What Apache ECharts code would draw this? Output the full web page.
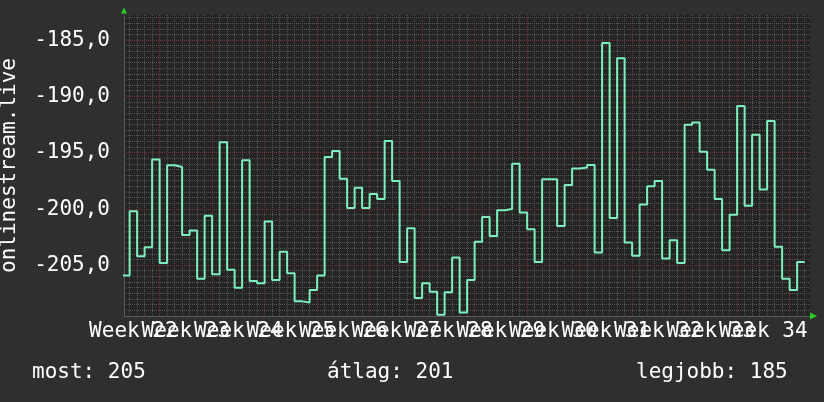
<!DOCTYPE html>
<html>
<head>
<meta charset="utf-8">
<script src="https://cdn.jsdelivr.net/npm/echarts@6/dist/echarts.min.js"></script>
<style>
html,body{margin:0;padding:0;background:#2f2f2f;}
#chart{width:824px;height:402px;}
</style>
</head>
<body>
<div id="chart"></div>
<script>
// ---- data ----
const weekLabels = ['Week 22','Week 23','Week 24','Week 25','Week 26','Week 27','Week 28',
                    'Week 29','Week 30','Week 31','Week 32','Week 33','Week 34'];
const dailyValues = [
  -205.9, -200.2, -204.2, -203.4, -195.6, -204.8, -196.1, -196.25, -202.3, -201.9,
  -206.2, -200.6, -205.8, -194.06, -205.4, -207.0, -195.66, -206.4, -206.6, -201.1,
  -206.3, -203.8, -205.7, -208.2, -208.3, -207.2, -205.9, -195.36, -194.83, -197.3,
  -199.9, -198.1, -199.9, -198.65, -199.1, -193.94, -197.5, -204.7, -201.7, -207.9,
  -206.6, -207.35, -209.4, -207.4, -204.3, -209.2, -206.3, -202.9, -200.7, -202.4,
  -200.1, -200.0, -195.98, -200.3, -201.8, -204.7, -197.35, -197.35, -201.5, -197.85,
  -196.4, -196.3, -196.07, -203.86, -185.24, -200.8, -186.6, -202.97, -204.15, -199.6,
  -197.97, -197.5, -204.4, -202.76, -204.8, -192.5, -192.3, -194.9, -196.5, -199.1,
  -203.65, -200.5, -190.83, -199.7, -193.4, -198.26, -192.17, -203.35, -206.2, -207.2,
  -204.7
];
const yTickValues = [-205, -200, -195, -190, -185];
const yAxisTitle = 'onlinestream.live';
const statNames = ['most', 'átlag', 'legjobb'];

// ---- layout (x axis units: days) ----
const FIRST_DAY_START = -0.25;
const X_MAX = 686 / 7.5;
const Y_MIN = -209.5, Y_MAX = -182.75;
const WEEK_LABEL_FIRST = 1.25;
const FIRST_WEEK_LINE = 4.75;

const lineData = dailyValues.map((v, i) => [FIRST_DAY_START + i, v]);
lineData.push([FIRST_DAY_START + dailyValues.length, dailyValues[dailyValues.length - 1]]);

const weekLabelPos = weekLabels.map((_, k) => WEEK_LABEL_FIRST + 7 * k);
const evenPos = weekLabelPos.filter((_, k) => k % 2 === 0);
const oddPos = weekLabelPos.filter((_, k) => k % 2 === 1);
const weekText = v => weekLabels[Math.round((v - WEEK_LABEL_FIRST) / 7)];

const cur = Math.round(-dailyValues[dailyValues.length - 1]);
const avg = Math.round(-dailyValues.reduce((a, b) => a + b, 0) / dailyValues.length);
const best = Math.round(-Math.max.apply(null, dailyValues));
const statValues = [cur, avg, best];

// grid lines: [x, y, kind(0 vertical / 1 horizontal), major]
const gridItems = [];
for (let k = 0; k < dailyValues.length; k++) {
  const d = FIRST_DAY_START + 1 + k;
  if (d > X_MAX) break;
  const major = Math.abs(((d - FIRST_WEEK_LINE) % 7 + 7) % 7) < 1e-9 ? 1 : 0;
  gridItems.push([d, -200, 0, major]);
}
for (let v = Y_MIN + 0.5; v < Y_MAX; v += 0.5) {
  const major = Math.abs(v % 5) < 1e-9 ? 1 : 0;
  gridItems.push([10, v, 1, major]);
}

const GRAY = '#555555', RED = '#753232';
const FONT = 'DejaVu Sans Mono';
const statLeft = [32, 327, 636];

const labelStyle = {color: '#ffffff', fontFamily: FONT, fontSize: 21, margin: 5, hideOverlap: false,
                    showMinLabel: true, showMaxLabel: true, formatter: weekText};

const chart = echarts.init(document.getElementById('chart'), null, {renderer: 'canvas'});
chart.setOption({
  backgroundColor: '#2f2f2f',
  animation: false,
  textStyle: {fontFamily: FONT},
  title: statNames.map((n, i) => ({
    text: n + ': ' + statValues[i],
    left: statLeft[i], top: 362, padding: 0,
    textStyle: {color: '#ffffff', fontFamily: FONT, fontSize: 21, fontWeight: 'normal'}
  })),
  grid: {
    left: 124, top: 15, width: 686, height: 301,
    show: true, backgroundColor: '#242424', borderWidth: 0,
    containLabel: false, outerBoundsMode: 'none'
  },
  xAxis: [{
    type: 'value', min: 0, max: X_MAX, position: 'bottom',
    axisLine: {show: true, onZero: false, lineStyle: {color: '#5a5a5a', width: 1}},
    axisTick: {show: false},
    splitLine: {show: false},
    axisLabel: Object.assign({show: true, customValues: evenPos}, labelStyle)
  }, {
    type: 'value', min: 0, max: X_MAX, position: 'bottom',
    axisLine: {show: true, onZero: false, symbol: ['none', 'triangle'], symbolSize: [7, 7], symbolOffset: [0, 3.5],
               lineStyle: {color: '#22d022', width: 0}},
    axisTick: {show: false}, axisLabel: {show: false}, splitLine: {show: false}
  }, {
    type: 'value', min: 0, max: X_MAX, position: 'bottom',
    axisLine: {show: false, onZero: false},
    axisTick: {show: false}, splitLine: {show: false},
    axisLabel: Object.assign({show: true, customValues: oddPos}, labelStyle)
  }],
  yAxis: [{
    type: 'value', min: Y_MIN, max: Y_MAX,
    axisLine: {show: true, onZero: false, lineStyle: {color: '#5a5a5a', width: 1}},
    axisTick: {show: false},
    splitLine: {show: false},
    axisLabel: {
      show: true, customValues: yTickValues, showMinLabel: true, showMaxLabel: true,
      formatter: v => v.toFixed(1).replace('.', ','),
      color: '#ffffff', fontFamily: FONT, fontSize: 21, margin: 14
    },
    name: yAxisTitle, nameLocation: 'middle', nameRotate: 90, nameGap: 104,
    nameTextStyle: {color: '#ffffff', fontFamily: FONT, fontSize: 21}
  }, {
    type: 'value', min: Y_MIN, max: Y_MAX, position: 'left',
    axisLine: {show: true, onZero: false, symbol: ['none', 'triangle'], symbolSize: [6, 6], symbolOffset: [0, 4.5],
               lineStyle: {color: '#22d022', width: 0}},
    axisTick: {show: false}, axisLabel: {show: false}, splitLine: {show: false}
  }],
  series: [{
    type: 'custom', xAxisIndex: 0, yAxisIndex: 0, z: 1, silent: true,
    data: gridItems,
    renderItem: function (params, api) {
      const cs = params.coordSys;
      const p = api.coord([api.value(0), api.value(1)]);
      const kind = api.value(2), major = api.value(3);
      let shape;
      if (kind === 0) {
        const x = Math.floor(p[0]) + 0.5;
        shape = {x1: x, y1: cs.y, x2: x, y2: cs.y + cs.height};
      } else {
        const y = Math.floor(p[1]) + 0.5;
        shape = {x1: cs.x, y1: y, x2: cs.x + cs.width, y2: y};
      }
      return {type: 'line', shape: shape, silent: true,
              style: {stroke: major ? RED : GRAY, lineWidth: 1, lineDash: [1, 1]}};
    }
  }, {
    type: 'line', xAxisIndex: 0, yAxisIndex: 0,
    data: lineData, step: 'end', showSymbol: false, clip: true, z: 5,
    lineStyle: {color: '#7ef0c0', width: 2}
  }]
});
</script>
</body>
</html>
